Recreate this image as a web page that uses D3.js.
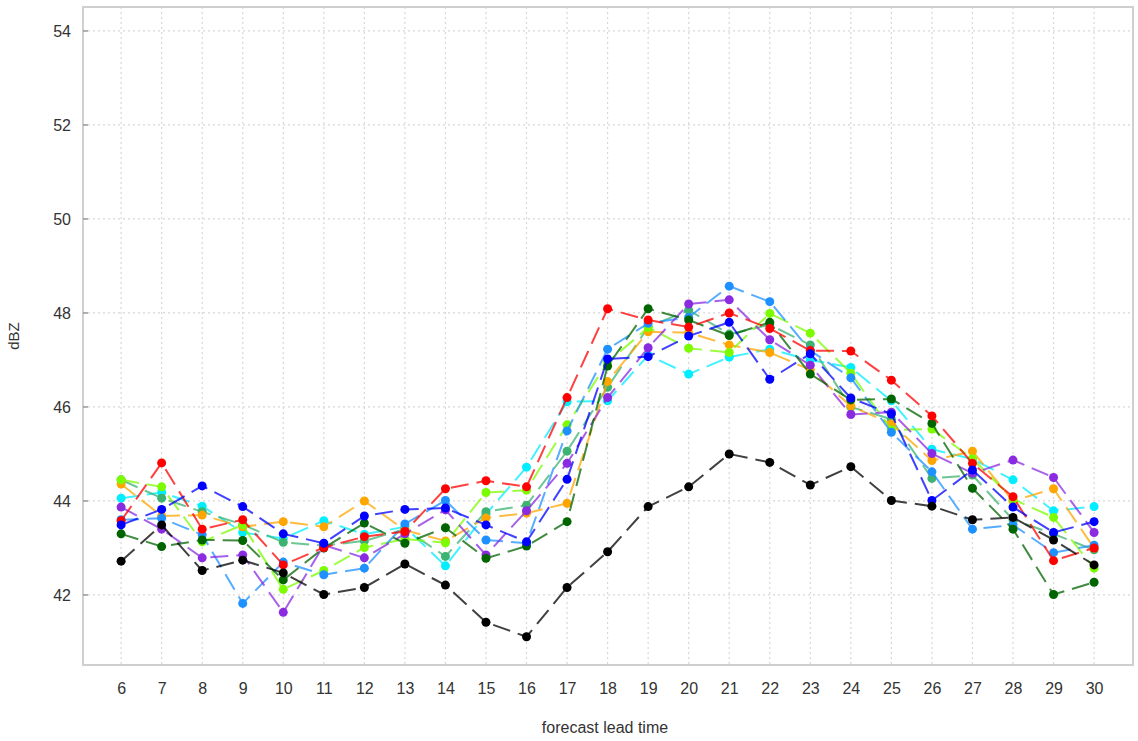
<!DOCTYPE html>
<html>
<head>
<meta charset="utf-8">
<script src="https://cdn.jsdelivr.net/npm/d3@7"></script>
<style>
  body { margin: 0; background: #fff; }
  svg { display: block; font-family: "Liberation Sans", Arial, sans-serif; }
</style>
</head>
<body>
<div id="chart"></div>
<script>
const WIDTH = 1138;
const HEIGHT = 741;

// forecast lead times on the x axis
const leadTimes = [6, 7, 8, 9, 10, 11, 12, 13, 14, 15, 16, 17, 18, 19, 20, 21, 22, 23, 24, 25, 26, 27, 28, 29, 30];
const yTicks = [42, 44, 46, 48, 50, 52, 54];

// one array per member, values in dBZ
const redVals = [43.58, 44.81, 43.4, 43.6, 42.64, 43.01, 43.24, 43.35, 44.26, 44.43, 44.3, 46.2, 48.09, 47.85, 47.7, 48.0, 47.67, 47.2, 47.19, 46.57, 45.81, 44.8, 44.09, 42.73, 43.0];
const blueVals = [43.49, 43.82, 44.32, 43.88, 43.3, 43.1, 43.68, 43.82, 43.85, 43.49, 43.13, 44.46, 47.02, 47.07, 47.51, 47.8, 46.59, 47.13, 46.19, 45.85, 44.01, 44.66, 43.87, 43.33, 43.56];
const orangeVals = [44.36, 43.68, 43.7, 43.45, 43.56, 43.45, 44.0, 43.38, 43.15, 43.64, 43.74, 43.95, 46.54, 47.6, 47.58, 47.32, 47.16, 46.79, 46.02, 45.64, 44.86, 45.06, 44.0, 44.26, 43.0];
const lawnVals = [44.45, 44.3, 43.13, 43.49, 42.12, 42.52, 43.01, 43.19, 43.11, 44.18, 44.23, 45.62, 46.95, 47.69, 47.25, 47.16, 47.99, 47.57, 46.72, 45.51, 45.53, 44.9, 44.04, 43.65, 42.57];
const seaVals = [44.45, 44.06, 43.77, 43.5, 43.12, 43.05, 43.15, 43.4, 42.82, 43.77, 43.91, 45.06, 46.42, 47.7, 48.06, 47.55, 47.75, 47.32, 46.0, 45.74, 44.48, 44.55, 43.6, 43.3, 42.96];
const darkGreenVals = [43.3, 43.03, 43.17, 43.16, 42.32, 43.0, 43.53, 43.1, 43.43, 42.78, 43.04, 43.56, 46.87, 48.09, 47.85, 47.52, 47.8, 46.7, 46.15, 46.17, 45.65, 44.27, 43.4, 42.01, 42.27];
const cyanVals = [44.06, 44.18, 43.89, 43.33, 43.2, 43.58, 43.29, 43.45, 42.62, 43.72, 44.72, 46.11, 46.13, 47.1, 46.7, 47.06, 47.23, 47.0, 46.84, 46.13, 45.1, 44.89, 44.45, 43.79, 43.88];
const dodgerVals = [43.6, 43.63, 43.28, 41.82, 42.7, 42.43, 42.57, 43.51, 44.01, 43.17, 43.1, 45.49, 47.23, 47.78, 47.91, 48.57, 48.24, 47.2, 46.62, 45.46, 44.62, 43.4, 43.49, 42.9, 43.06];
const purpleVals = [43.87, 43.4, 42.79, 42.85, 41.63, 43.06, 42.79, 43.3, 43.81, 42.85, 43.79, 44.8, 46.2, 47.26, 48.19, 48.28, 47.43, 46.89, 45.84, 45.89, 45.01, 44.59, 44.87, 44.5, 43.33];
const blackVals = [42.72, 43.49, 42.52, 42.74, 42.47, 42.01, 42.16, 42.66, 42.21, 41.42, 41.11, 42.16, 42.92, 43.88, 44.3, 45.0, 44.82, 44.34, 44.73, 44.01, 43.89, 43.6, 43.65, 43.17, 42.64];

const series = [
  { colour: '#00eeff', values: cyanVals },
  { colour: '#3cb371', values: seaVals },
  { colour: '#ffa500', values: orangeVals },
  { colour: '#7cfc00', values: lawnVals },
  { colour: '#1e90ff', values: dodgerVals },
  { colour: '#8a2be2', values: purpleVals },
  { colour: '#006400', values: darkGreenVals },
  { colour: '#ff0000', values: redVals },
  { colour: '#0000ff', values: blueVals },
  { colour: '#000000', values: blackVals },
];

const frame = { left: 83, right: 1133, top: 7, bottom: 665 };

const x = d3.scaleLinear().domain([5.06, 30.96]).range([frame.left, frame.right]);
const y = d3.scaleLinear().domain([40.51, 54.51]).range([frame.bottom, frame.top]);

const svg = d3
  .select('#chart')
  .append('svg')
  .attr('width', WIDTH)
  .attr('height', HEIGHT);

// dotted grid
const grid = svg.append('g').attr('stroke', '#d8d8d8').attr('stroke-width', 1.2).attr('stroke-dasharray', '2,3');
grid
  .selectAll('line.v')
  .data(leadTimes)
  .join('line')
  .attr('class', 'v')
  .attr('x1', (d) => x(d))
  .attr('x2', (d) => x(d))
  .attr('y1', frame.top)
  .attr('y2', frame.bottom);
grid
  .selectAll('line.h')
  .data(yTicks)
  .join('line')
  .attr('class', 'h')
  .attr('x1', frame.left)
  .attr('x2', frame.right)
  .attr('y1', (d) => y(d))
  .attr('y2', (d) => y(d));

// frame
svg
  .append('rect')
  .attr('x', frame.left)
  .attr('y', frame.top)
  .attr('width', frame.right - frame.left)
  .attr('height', frame.bottom - frame.top)
  .attr('fill', 'none')
  .attr('stroke', '#cfcfcf')
  .attr('stroke-width', 2);

// axes
const yAxis = svg
  .append('g')
  .attr('transform', `translate(${frame.left},0)`)
  .call(d3.axisLeft(y).tickValues(yTicks).tickSize(0).tickPadding(12).tickFormat(d3.format('d')));
yAxis.select('.domain').remove();
yAxis.selectAll('text').attr('font-size', 16).attr('fill', '#333');
svg
  .append('g')
  .selectAll('line')
  .data(yTicks)
  .join('line')
  .attr('x1', frame.left)
  .attr('x2', frame.left + 5)
  .attr('y1', (d) => y(d))
  .attr('y2', (d) => y(d))
  .attr('stroke', '#999')
  .attr('stroke-width', 1.5);

const xAxis = svg
  .append('g')
  .attr('transform', `translate(0,${frame.bottom})`)
  .call(d3.axisBottom(x).tickValues(leadTimes).tickSize(0).tickPadding(18).tickFormat(d3.format('d')));
xAxis.select('.domain').remove();
xAxis.selectAll('text').attr('font-size', 16).attr('fill', '#333');

svg
  .append('text')
  .attr('x', (frame.left + frame.right) / 2 - 3)
  .attr('y', 733)
  .attr('text-anchor', 'middle')
  .attr('font-size', 16)
  .attr('fill', '#333')
  .text('forecast lead time');

svg
  .append('text')
  .attr('transform', `translate(19,${(frame.top + frame.bottom) / 2}) rotate(-90)`)
  .attr('text-anchor', 'middle')
  .attr('font-size', 15)
  .attr('fill', '#333')
  .text('dBZ');

// member lines and points
const line = d3
  .line()
  .x((d, i) => x(leadTimes[i]))
  .y((d) => y(d));

const members = svg.append('g').selectAll('g').data(series).join('g');

members
  .append('path')
  .attr('d', (d) => line(d.values))
  .attr('fill', 'none')
  .attr('stroke', (d) => d.colour)
  .attr('stroke-width', 2)
  .attr('stroke-opacity', 0.75)
  .attr('stroke-dasharray', '18,8');

members
  .selectAll('circle')
  .data((d) => d.values.map((v, i) => ({ v, t: leadTimes[i], colour: d.colour })))
  .join('circle')
  .attr('cx', (d) => x(d.t))
  .attr('cy', (d) => y(d.v))
  .attr('r', 4.5)
  .attr('fill', (d) => d.colour);
</script>
</body>
</html>
